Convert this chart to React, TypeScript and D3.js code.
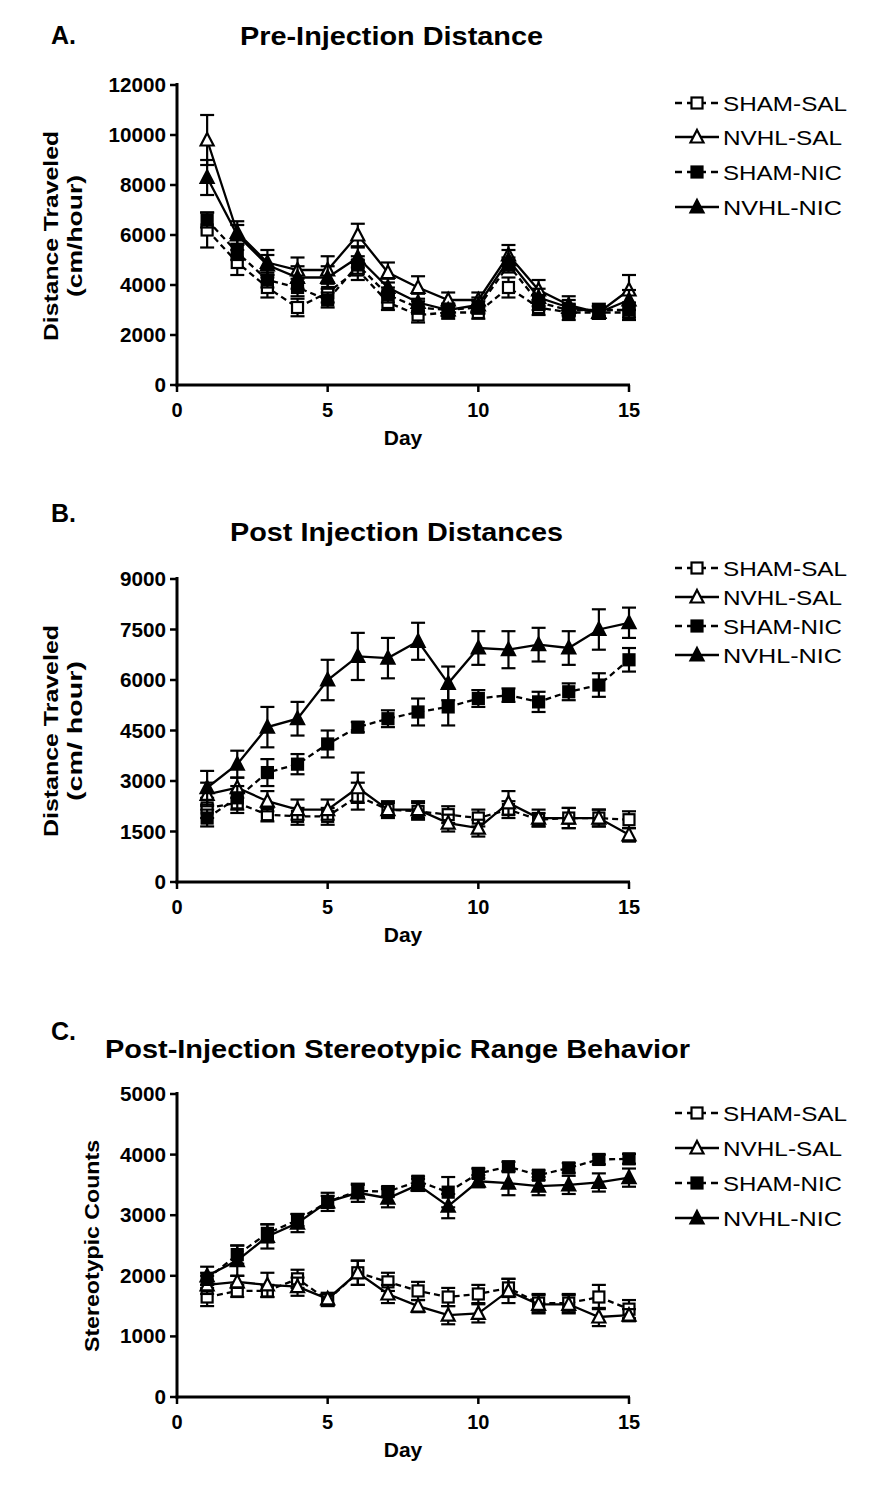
import React from "react";
import * as d3 from "d3";

const days = [1, 2, 3, 4, 5, 6, 7, 8, 9, 10, 11, 12, 13, 14, 15];
const seriesNames = ["SHAM-SAL", "NVHL-SAL", "SHAM-NIC", "NVHL-NIC"];
const xTicks = [0, 5, 10, 15];

// Panel A: Pre-Injection Distance
const aShamSal = [6200, 4900, 3900, 3100, 3700, 4600, 3300, 2800, 2900, 2900, 3900, 3100, 2900, 2900, 2900];
const aShamSalErr = [700, 500, 400, 350, 400, 400, 300, 300, 250, 250, 400, 300, 300, 250, 300];
const aNvhlSal = [9800, 6100, 4900, 4600, 4600, 6000, 4500, 3900, 3400, 3400, 5200, 3800, 3200, 2900, 3800];
const aNvhlSalErr = [1000, 450, 500, 500, 550, 450, 400, 450, 300, 300, 400, 400, 350, 250, 600];
const aShamNic = [6600, 5300, 4200, 3900, 3400, 4800, 3600, 3100, 3000, 3100, 4800, 3300, 3000, 3000, 3000];
const aShamNicErr = [300, 300, 300, 350, 300, 350, 300, 250, 250, 250, 300, 300, 250, 250, 300];
const aNvhlNic = [8300, 6000, 4800, 4300, 4300, 5100, 3900, 3300, 3000, 3200, 5000, 3500, 3100, 2900, 3400];
const aNvhlNicErr = [700, 400, 400, 450, 450, 400, 350, 350, 250, 300, 400, 350, 300, 250, 400];
const aYTicks = [0, 2000, 4000, 6000, 8000, 10000, 12000];

// Panel B: Post Injection Distances
const bShamSal = [2200, 2350, 2000, 1950, 1950, 2550, 2150, 2100, 2000, 1900, 2150, 1850, 1900, 1900, 1850];
const bShamSalErr = [300, 300, 200, 250, 250, 400, 200, 250, 250, 250, 250, 200, 300, 250, 250];
const bNvhlSal = [2600, 2800, 2400, 2150, 2150, 2800, 2150, 2150, 1750, 1600, 2350, 1900, 1900, 1900, 1400];
const bNvhlSalErr = [350, 300, 300, 300, 300, 450, 250, 250, 250, 250, 350, 250, 300, 250, 200];
const bShamNic = [1900, 2500, 3250, 3500, 4100, 4600, 4850, 5050, 5200, 5450, 5550, 5350, 5650, 5850, 6600];
const bShamNicErr = [250, 350, 400, 300, 400, 150, 250, 400, 550, 250, 200, 300, 250, 350, 350];
const bNvhlNic = [2800, 3500, 4600, 4850, 6000, 6700, 6650, 7150, 5900, 6950, 6900, 7050, 6950, 7500, 7700];
const bNvhlNicErr = [500, 400, 600, 500, 600, 700, 600, 550, 500, 500, 550, 500, 500, 600, 450];
const bYTicks = [0, 1500, 3000, 4500, 6000, 7500, 9000];

// Panel C: Post-Injection Stereotypic Range Behavior
const cShamSal = [1650, 1750, 1750, 1950, 1600, 2050, 1900, 1750, 1650, 1700, 1800, 1550, 1550, 1650, 1450];
const cShamSalErr = [150, 100, 100, 150, 100, 200, 150, 150, 150, 150, 150, 150, 150, 200, 150];
const cNvhlSal = [1850, 1900, 1850, 1820, 1620, 2050, 1700, 1500, 1350, 1380, 1750, 1530, 1530, 1320, 1350];
const cNvhlSalErr = [150, 100, 200, 150, 100, 200, 150, 100, 150, 150, 200, 150, 150, 150, 100];
const cShamNic = [1950, 2350, 2700, 2920, 3220, 3400, 3390, 3560, 3380, 3690, 3800, 3660, 3780, 3920, 3930];
const cShamNicErr = [100, 150, 150, 100, 100, 100, 80, 80, 250, 80, 80, 80, 80, 80, 80];
const cNvhlNic = [2000, 2250, 2650, 2870, 3220, 3370, 3280, 3500, 3150, 3560, 3530, 3480, 3500, 3540, 3620];
const cNvhlNicErr = [150, 250, 200, 150, 150, 150, 150, 100, 200, 100, 200, 150, 150, 150, 150];
const cYTicks = [0, 1000, 2000, 3000, 4000, 5000];

type Style = { dashed: boolean; filled: boolean; shape: "square" | "triangle" };
const styles: Style[] = [
  { dashed: true, filled: false, shape: "square" },
  { dashed: false, filled: false, shape: "triangle" },
  { dashed: true, filled: true, shape: "square" },
  { dashed: false, filled: true, shape: "triangle" },
];

const FONT = "'Liberation Sans', Arial, sans-serif";

function Marker({ x, y, st }: { x: number; y: number; st: Style }) {
  const fill = st.filled ? "#000" : "#fff";
  if (st.shape === "square") {
    return <rect x={x - 5.5} y={y - 5.5} width={11} height={11} fill={fill} stroke="#000" strokeWidth={2.2} />;
  }
  const p = `M${x},${y - 7} L${x + 6.5},${y + 5.5} L${x - 6.5},${y + 5.5} Z`;
  return <path d={p} fill={fill} stroke="#000" strokeWidth={2.2} strokeLinejoin="miter" />;
}

type PanelProps = {
  letter: string;
  letterY: number;
  title: string;
  titleX: number;
  titleY: number;
  titleLen: number;
  yTop: number;
  yBottom: number;
  yMax: number;
  yTicks: number[];
  yLabels: string[];
  yLabelXs: number[];
  yLabelLens: number[];
  yLabelCenter: number;
  means: number[][];
  errs: number[][];
  legendY: number[];
};

function Panel(p: PanelProps) {
  const x = d3.scaleLinear().domain([0, 15]).range([177, 629]);
  const y = d3.scaleLinear().domain([0, p.yMax]).range([p.yBottom, p.yTop]);
  const line = d3
    .line<number>()
    .x((_, i) => x(days[i]))
    .y((v) => y(v));
  return (
    <g>
      <text x={51} y={p.letterY} fontFamily={FONT} fontWeight="bold" fontSize={25}>
        {p.letter}
      </text>
      <text
        x={p.titleX}
        y={p.titleY}
        fontFamily={FONT}
        fontWeight="bold"
        fontSize={25}
        textLength={p.titleLen}
        lengthAdjust="spacingAndGlyphs"
      >
        {p.title}
      </text>
      {/* axes */}
      <line x1={177} x2={177} y1={p.yTop - 2} y2={p.yBottom + 1.5} stroke="#000" strokeWidth={3} />
      <line x1={175.5} x2={630} y1={p.yBottom} y2={p.yBottom} stroke="#000" strokeWidth={3} />
      {p.yTicks.map((t) => (
        <g key={"yt" + t}>
          <line x1={170} x2={177} y1={y(t)} y2={y(t)} stroke="#000" strokeWidth={2.5} />
          <text
            x={166}
            y={y(t) + 7}
            textAnchor="end"
            fontFamily={FONT}
            fontWeight="bold"
            fontSize={20}
            textLength={String(t).length * 11.5}
            lengthAdjust="spacingAndGlyphs"
          >
            {t}
          </text>
        </g>
      ))}
      {xTicks.map((t) => (
        <g key={"xt" + t}>
          <line x1={x(t)} x2={x(t)} y1={p.yBottom} y2={p.yBottom + 7} stroke="#000" strokeWidth={2.5} />
          <text
            x={x(t)}
            y={p.yBottom + 32}
            textAnchor="middle"
            fontFamily={FONT}
            fontWeight="bold"
            fontSize={20}
          >
            {t}
          </text>
        </g>
      ))}
      <text
        x={x(7.5)}
        y={p.yBottom + 60}
        textAnchor="middle"
        fontFamily={FONT}
        fontWeight="bold"
        fontSize={21}
      >
        Day
      </text>
      {p.yLabels.map((lab, i) => (
        <text
          key={lab}
          transform={`translate(${p.yLabelXs[i]},${p.yLabelCenter}) rotate(-90)`}
          textAnchor="middle"
          fontFamily={FONT}
          fontWeight="bold"
          fontSize={21}
          textLength={p.yLabelLens[i]}
          lengthAdjust="spacingAndGlyphs"
        >
          {lab}
        </text>
      ))}
      {/* series */}
      {p.means.map((m, si) => (
        <g key={"s" + si}>
          {m.map((v, i) => (
            <g key={"e" + i}>
              <line
                x1={x(days[i])}
                x2={x(days[i])}
                y1={y(v - p.errs[si][i])}
                y2={y(v + p.errs[si][i])}
                stroke="#000"
                strokeWidth={2.2}
              />
              <line
                x1={x(days[i]) - 7}
                x2={x(days[i]) + 7}
                y1={y(v + p.errs[si][i])}
                y2={y(v + p.errs[si][i])}
                stroke="#000"
                strokeWidth={2.2}
              />
              <line
                x1={x(days[i]) - 7}
                x2={x(days[i]) + 7}
                y1={y(v - p.errs[si][i])}
                y2={y(v - p.errs[si][i])}
                stroke="#000"
                strokeWidth={2.2}
              />
            </g>
          ))}
          <path
            d={line(m) || ""}
            fill="none"
            stroke="#000"
            strokeWidth={2.3}
            strokeDasharray={styles[si].dashed ? "6,4" : undefined}
          />
          {m.map((v, i) => (
            <Marker key={"m" + i} x={x(days[i])} y={y(v)} st={styles[si]} />
          ))}
        </g>
      ))}
      {/* legend */}
      {seriesNames.map((name, si) => (
        <g key={"lg" + name}>
          <line
            x1={675}
            x2={719}
            y1={p.legendY[si]}
            y2={p.legendY[si]}
            stroke="#000"
            strokeWidth={2.5}
            strokeDasharray={styles[si].dashed ? "7,5" : undefined}
          />
          <Marker x={697} y={p.legendY[si]} st={styles[si]} />
          <text
            x={723}
            y={p.legendY[si] + 8}
            fontFamily={FONT}
            fontSize={21}
            textLength={name.startsWith("SHAM-S") ? 124 : 119}
            lengthAdjust="spacingAndGlyphs"
          >
            {name}
          </text>
        </g>
      ))}
    </g>
  );
}

export default function App() {
  return (
    <svg
      width={894}
      height={1491}
      style={{ position: "absolute", left: 0, top: 0, background: "#fff" }}
    >
      <rect x={0} y={0} width={894} height={1491} fill="#fff" />
      <Panel
        letter="A."
        letterY={44}
        title="Pre-Injection Distance"
        titleX={240}
        titleY={45}
        titleLen={303}
        yTop={85}
        yBottom={385}
        yMax={12000}
        yTicks={aYTicks}
        yLabels={["Distance Traveled", "(cm/hour)"]}
        yLabelXs={[58, 82]}
        yLabelLens={[210, 122]}
        yLabelCenter={236}
        means={[aShamSal, aNvhlSal, aShamNic, aNvhlNic]}
        errs={[aShamSalErr, aNvhlSalErr, aShamNicErr, aNvhlNicErr]}
        legendY={[103, 137, 172, 207]}
      />
      <Panel
        letter="B."
        letterY={522}
        title="Post Injection Distances"
        titleX={230}
        titleY={541}
        titleLen={333}
        yTop={579}
        yBottom={882}
        yMax={9000}
        yTicks={bYTicks}
        yLabels={["Distance Traveled", "(cm/ hour)"]}
        yLabelXs={[58, 82]}
        yLabelLens={[212, 140]}
        yLabelCenter={731}
        means={[bShamSal, bNvhlSal, bShamNic, bNvhlNic]}
        errs={[bShamSalErr, bNvhlSalErr, bShamNicErr, bNvhlNicErr]}
        legendY={[568, 597, 626, 655]}
      />
      <Panel
        letter="C."
        letterY={1040}
        title="Post-Injection Stereotypic Range Behavior"
        titleX={105}
        titleY={1058}
        titleLen={585}
        yTop={1094}
        yBottom={1397}
        yMax={5000}
        yTicks={cYTicks}
        yLabels={["Stereotypic Counts"]}
        yLabelXs={[99]}
        yLabelLens={[212]}
        yLabelCenter={1246}
        means={[cShamSal, cNvhlSal, cShamNic, cNvhlNic]}
        errs={[cShamSalErr, cNvhlSalErr, cShamNicErr, cNvhlNicErr]}
        legendY={[1113, 1148, 1183, 1218]}
      />
    </svg>
  );
}
